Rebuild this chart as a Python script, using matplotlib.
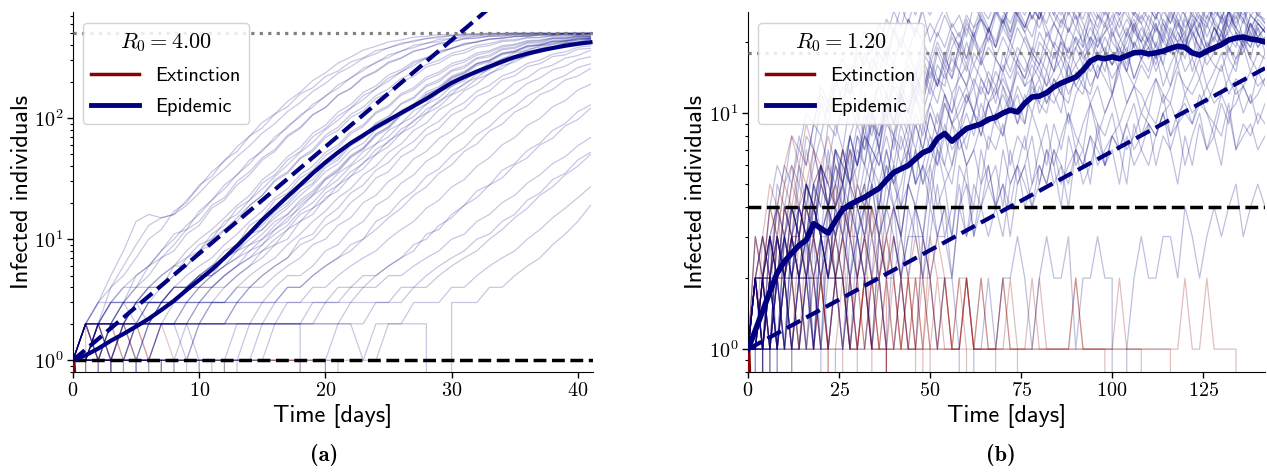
"""Stochastic SIR-type outbreak trajectories for two values of R0.

Left: R0 = 4.00 over 41 days, right: R0 = 1.20 over 142 days.
Thin lines are single realisations (blue: epidemic, red: extinction),
thick line is the mean of the epidemic runs.
"""
import matplotlib
matplotlib.use("Agg")
import matplotlib.pyplot as plt
from matplotlib.lines import Line2D

RED = "darkred"
BLUE = "navy"

# ---------------- panel (a): R0 = 4.00, daily values ----------------
A_R0 = "4.00"
A_DAYS = list(range(42))

A_EPIDEMIC = [
    [1, 2, 3, 4, 6, 9, 13, 15, 16, 21, 27, 36, 44, 58, 71, 92, 108, 137, 163, 204, 236, 284, 318, 364, 391, 425, 441, 466, 472, 489, 486, 497, 494, 503, 498, 505, 497, 502, 495, 501, 498, 503],
    [1, 1, 2, 3, 3, 5, 6, 8, 11, 12, 17, 21, 28, 34, 45, 53, 70, 83, 106, 123, 153, 176, 216, 246, 289, 316, 359, 381, 414, 428, 453, 459, 475, 477, 489, 487, 495, 491, 498, 494, 500, 496],
    [1, 2, 2, 3, 4, 4, 6, 7, 9, 12, 14, 19, 22, 30, 36, 47, 55, 72, 84, 107, 122, 154, 174, 214, 240, 284, 311, 354, 376, 409, 424, 449, 457, 473, 475, 487, 484, 494, 490, 497, 493, 499],
    [1, 1, 1, 2, 2, 3, 3, 4, 5, 7, 8, 11, 13, 18, 21, 29, 34, 45, 53, 70, 82, 104, 121, 153, 174, 214, 240, 284, 311, 352, 373, 408, 421, 448, 453, 471, 473, 485, 484, 492, 488, 496],
    [1, 2, 2, 2, 2, 3, 4, 4, 5, 6, 8, 9, 12, 14, 19, 23, 31, 36, 47, 55, 72, 84, 107, 123, 153, 174, 212, 236, 276, 300, 342, 364, 398, 412, 438, 444, 463, 465, 478, 477, 487, 484],
    [1, 1, 2, 2, 2, 2, 2, 3, 3, 4, 5, 6, 8, 9, 13, 15, 21, 24, 32, 37, 49, 57, 74, 85, 109, 123, 154, 171, 208, 229, 269, 290, 331, 350, 386, 400, 428, 436, 456, 458, 473, 472],
    [1, 1, 1, 1, 2, 2, 2, 2, 3, 3, 3, 4, 5, 6, 8, 9, 12, 14, 19, 23, 31, 36, 47, 55, 71, 82, 105, 120, 151, 170, 208, 229, 271, 292, 332, 350, 384, 397, 424, 430, 450, 452],
    [1, 2, 1, 2, 2, 2, 2, 2, 2, 3, 3, 3, 4, 5, 6, 7, 9, 10, 14, 16, 22, 25, 33, 38, 50, 58, 75, 86, 109, 124, 155, 174, 210, 230, 270, 290, 330, 346, 381, 393, 420, 426],
    [1, 1, 1, 1, 1, 2, 2, 2, 2, 2, 2, 3, 3, 3, 4, 5, 6, 7, 10, 11, 15, 18, 24, 28, 37, 43, 55, 64, 82, 94, 118, 134, 166, 186, 222, 243, 282, 301, 337, 352, 384, 394],
    [1, 0, 1, 1, 1, 1, 2, 2, 2, 2, 2, 2, 2, 3, 3, 3, 4, 5, 5, 6, 8, 9, 12, 14, 19, 22, 29, 34, 44, 51, 66, 77, 98, 113, 141, 160, 193, 214, 250, 268, 304, 320],
    [1, 1, 2, 2, 2, 2, 2, 2, 2, 2, 2, 2, 2, 2, 2, 3, 3, 4, 4, 5, 6, 7, 9, 10, 14, 16, 21, 25, 33, 38, 49, 57, 73, 85, 107, 124, 152, 171, 204, 225, 261, 280],
    [1, 1, 1, 1, 1, 1, 1, 1, 0, 1, 1, 1, 1, 2, 2, 2, 2, 2, 2, 3, 3, 3, 4, 4, 5, 6, 7, 8, 11, 12, 16, 19, 25, 28, 37, 42, 54, 62, 79, 90, 113, 128],
    [1, 1, 1, 1, 1, 2, 2, 2, 2, 2, 1, 1, 0, 1, 2, 2, 2, 2, 2, 2, 2, 2, 3, 3, 3, 3, 4, 4, 5, 6, 7, 8, 10, 11, 14, 16, 21, 24, 31, 35, 45, 52],
    [1, 1, 1, 1, 1, 1, 0, 1, 1, 1, 1, 1, 1, 1, 1, 1, 1, 1, 1, 1, 1, 2, 2, 1, 1, 2, 2, 2, 2, 0, 3, 3, 3, 4, 4, 5, 6, 7, 9, 11, 14, 19],
    [1, 2, 3, 5, 8, 14, 16, 15, 16, 19, 24, 31, 38, 48, 59, 75, 90, 113, 134, 166, 193, 234, 265, 310, 340, 382, 405, 437, 450, 472, 477, 491, 490, 499, 496, 502, 498, 504, 497, 501, 499, 502],
    [1, 1, 2, 2, 3, 3, 4, 5, 6, 8, 10, 12, 15, 19, 23, 31, 37, 48, 57, 75, 87, 112, 129, 163, 184, 227, 250, 294, 316, 358, 376, 414, 424, 451, 455, 473, 472, 486, 483, 493, 489, 497],
    [1, 1, 1, 2, 2, 2, 3, 3, 4, 4, 5, 6, 7, 9, 11, 13, 17, 20, 27, 31, 41, 47, 62, 71, 91, 104, 132, 149, 187, 207, 249, 269, 314, 331, 374, 385, 421, 426, 454, 454, 474, 472],
    [1, 2, 2, 2, 3, 3, 3, 3, 4, 4, 5, 6, 7, 8, 11, 12, 16, 19, 25, 29, 39, 45, 59, 68, 89, 101, 130, 145, 182, 199, 243, 259, 308, 320, 366, 376, 414, 418, 449, 449, 469, 468],
    [1, 1, 1, 1, 1, 1, 2, 2, 2, 2, 3, 3, 3, 4, 4, 5, 6, 7, 9, 10, 13, 15, 20, 24, 32, 36, 48, 55, 72, 82, 106, 119, 151, 167, 207, 223, 266, 281, 322, 332, 370, 376],
    [1, 1, 1, 1, 1, 1, 1, 2, 2, 2, 2, 2, 2, 2, 2, 2, 3, 3, 3, 4, 4, 5, 6, 7, 8, 10, 12, 14, 18, 21, 27, 31, 40, 47, 60, 69, 87, 99, 124, 139, 170, 190],
    [1, 1, 2, 1, 1, 1, 1, 0, 1, 1, 2, 2, 2, 2, 2, 2, 2, 2, 2, 2, 3, 3, 3, 4, 4, 5, 5, 6, 7, 8, 10, 11, 14, 16, 20, 23, 29, 34, 42, 48, 59, 69],
    [1, 2, 2, 3, 3, 4, 4, 5, 6, 7, 9, 10, 14, 16, 21, 26, 33, 41, 52, 63, 80, 96, 120, 142, 174, 202, 240, 271, 312, 340, 378, 400, 430, 444, 462, 468, 480, 482, 490, 489, 495, 494],
    [1, 1, 2, 2, 2, 3, 3, 3, 4, 4, 5, 5, 7, 8, 10, 12, 15, 18, 23, 28, 36, 42, 54, 62, 80, 91, 116, 130, 164, 182, 222, 242, 284, 302, 344, 360, 396, 406, 436, 440, 462, 463],
    [1, 2, 1, 1, 2, 2, 2, 3, 3, 3, 4, 4, 5, 6, 7, 8, 10, 12, 16, 18, 24, 28, 36, 42, 55, 63, 81, 93, 118, 134, 168, 188, 230, 250, 296, 314, 356, 370, 406, 414, 442, 446],
    [1, 2, 2, 4, 5, 7, 10, 12, 17, 20, 28, 33, 45, 53, 71, 83, 108, 124, 158, 178, 220, 244, 290, 314, 360, 378, 416, 426, 456, 460, 480, 481, 494, 492, 501, 497, 506, 499, 503, 500, 507, 501],
    [1, 1, 2, 2, 3, 4, 5, 7, 8, 11, 13, 18, 21, 28, 34, 45, 53, 70, 82, 106, 122, 155, 176, 218, 244, 290, 314, 358, 378, 414, 426, 452, 458, 474, 476, 487, 486, 494, 491, 497, 494, 499],
    [1, 1, 1, 1, 2, 2, 3, 3, 4, 5, 6, 7, 9, 11, 14, 17, 22, 26, 34, 40, 52, 60, 77, 88, 112, 127, 159, 178, 218, 239, 282, 302, 344, 360, 396, 406, 436, 440, 462, 462, 478, 476],
    [1, 2, 2, 3, 3, 3, 4, 4, 6, 6, 8, 10, 12, 15, 19, 23, 30, 35, 46, 53, 69, 79, 101, 115, 145, 162, 200, 220, 264, 284, 328, 344, 384, 396, 428, 434, 458, 460, 476, 475, 487, 485],
    [1, 1, 2, 1, 2, 2, 2, 3, 3, 3, 4, 4, 5, 6, 7, 9, 11, 13, 17, 20, 26, 31, 40, 47, 61, 70, 90, 103, 130, 147, 183, 203, 246, 266, 310, 328, 370, 384, 416, 424, 448, 452],
    [1, 1, 1, 1, 1, 1, 2, 2, 2, 3, 3, 4, 4, 5, 6, 8, 9, 12, 14, 18, 21, 28, 33, 43, 50, 65, 75, 96, 110, 139, 157, 194, 215, 258, 278, 320, 338, 374, 388, 416, 424, 444],
    [1, 2, 1, 2, 2, 3, 2, 3, 3, 4, 4, 5, 6, 7, 8, 10, 12, 15, 18, 23, 27, 35, 41, 53, 61, 79, 90, 115, 130, 163, 182, 222, 242, 286, 304, 346, 360, 396, 406, 434, 438, 458],
    [1, 1, 1, 2, 2, 1, 1, 2, 2, 2, 2, 3, 3, 3, 4, 4, 5, 6, 7, 9, 10, 13, 15, 20, 23, 30, 35, 46, 53, 68, 78, 100, 114, 143, 160, 196, 215, 255, 273, 312, 328, 362],
    [1, 1, 1, 1, 0, 1, 1, 1, 1, 2, 2, 2, 2, 3, 3, 3, 3, 4, 4, 5, 6, 7, 8, 10, 12, 15, 18, 23, 27, 35, 41, 53, 61, 78, 89, 112, 126, 156, 172, 206, 222, 256],
    [1, 1, 1, 1, 1, 1, 1, 1, 1, 1, 2, 2, 2, 2, 2, 2, 2, 3, 3, 3, 3, 4, 4, 5, 5, 6, 7, 9, 10, 13, 15, 19, 22, 28, 32, 41, 47, 60, 68, 86, 97, 120],
    [1, 1, 1, 0, 1, 1, 1, 1, 1, 1, 1, 1, 1, 1, 1, 1, 2, 2, 2, 2, 2, 2, 2, 2, 3, 3, 3, 4, 4, 5, 6, 7, 8, 10, 12, 15, 18, 23, 27, 34, 40, 50],
    [1, 2, 3, 3, 4, 5, 6, 8, 10, 13, 16, 21, 26, 34, 42, 55, 66, 86, 102, 130, 150, 188, 212, 258, 284, 332, 354, 398, 414, 446, 454, 474, 478, 490, 491, 498, 497, 503, 499, 505, 500, 504],
    [1, 1, 2, 2, 2, 3, 3, 3, 3, 4, 4, 5, 6, 7, 9, 10, 13, 16, 20, 24, 31, 37, 48, 56, 73, 84, 108, 123, 156, 175, 215, 236, 280, 298, 340, 354, 392, 402, 430, 434, 456, 458],
    [1, 2, 2, 2, 3, 2, 3, 3, 4, 4, 5, 5, 6, 8, 9, 11, 14, 16, 21, 25, 32, 38, 49, 57, 74, 85, 109, 124, 157, 176, 216, 236, 280, 298, 340, 354, 392, 400, 428, 432, 454, 456],
    [1, 2, 2, 1, 0, 1, 1, 2, 2, 2, 3, 3, 3, 4, 5, 6, 7, 9, 11, 14, 17, 22, 26, 34, 40, 52, 61, 79, 91, 117, 134, 168, 190, 234, 256, 302, 322, 364, 380, 414, 424, 448],
    [1, 1, 0, 1, 1, 2, 2, 2, 2, 1, 1, 0, 1, 1, 1, 2, 2, 2, 2, 0, 1, 1, 1, 1, 2, 2, 2, 3, 3, 3, 4, 4, 5, 6, 7, 8, 10, 12, 15, 18, 22, 27],
]

A_EXTINCT = [
    [1, 0],
    [1, 1, 0],
    [1, 2, 0],
    [1, 2, 1, 0],
    [1, 2, 1, 1, 0],
    [1, 1, 1, 1, 0],
    [1, 1, 2, 2, 1, 0],
    [1, 2, 2, 1, 2, 1, 1, 0],
    [1, 2, 2, 2, 2, 1, 1, 1, 0],
    [1, 1, 1, 2, 1, 1, 1, 1, 1, 0],
    [1, 1, 1, 1, 1, 1, 1, 2, 1, 1, 1, 0],
    [1, 2, 1, 1, 2, 2, 1, 1, 1, 1, 1, 1, 1, 0],
    [1, 1, 2, 1, 1, 1, 1, 1, 1, 1, 1, 1, 1, 1, 1, 1, 1, 1, 1, 0],
    [1, 1, 1, 1, 1, 2, 1, 1, 1, 1, 1, 1, 1, 1, 1, 1, 1, 1, 1, 1, 1, 0],
    [1, 1, 1, 1, 1, 1, 1, 1, 1, 1, 1, 1, 1, 1, 1, 1, 1, 1, 1, 1, 1, 1, 0],
]

A_MEAN = [1.0, 1.1, 1.25, 1.45, 1.65, 1.9, 2.2, 2.6, 3.1, 3.8, 4.6, 5.6, 7.0, 8.8,
          11.2, 14.4, 18, 22.5, 28, 35, 43, 52, 62, 72, 84, 96, 110, 126, 144, 168,
          195, 218, 242, 266, 292, 318, 340, 360, 378, 395, 410, 422]

A_EXT_MEAN_T = [0, 0.1, 0.3, 0.6, 1.0]
A_EXT_MEAN = [1.0, 0.7, 0.5, 0.4, 0.3]

A_GROWTH_T = [0, 41]
A_GROWTH = [1, 4100]
A_THRESHOLD = 1
A_CAP = 500

# ---------------- panel (b): R0 = 1.20, every second day ----------------
B_R0 = "1.20"
B_DAYS = list(range(0, 144, 2))

B_EPIDEMIC = [
    [1, 2, 1, 3, 2, 4, 3, 6, 4, 7, 5, 9, 8, 11, 14, 10, 15, 13, 18, 16, 22, 19, 25, 21, 29, 26, 31, 27, 34, 30, 36, 32, 35, 39, 31, 37, 41, 34, 38, 43, 36, 33, 40, 42, 35, 32, 39, 36, 41, 37, 33, 40, 35, 31, 38, 42, 34, 30, 37, 39, 33, 29, 36, 38, 32, 28, 35, 37, 31, 34, 32, 30],
    [1, 1, 2, 1, 3, 2, 2, 4, 3, 3, 6, 4, 5, 7, 5, 8, 6, 10, 7, 11, 9, 12, 10, 15, 11, 16, 13, 18, 14, 20, 17, 22, 16, 23, 19, 25, 20, 26, 22, 18, 27, 21, 24, 28, 22, 26, 19, 27, 23, 29, 21, 25, 28, 22, 26, 23, 30, 24, 20, 27, 23, 26, 21, 29, 24, 19, 26, 23, 28, 21, 25, 23],
    [1, 0, 1, 2, 1, 1, 3, 2, 1, 3, 2, 4, 2, 3, 5, 3, 4, 6, 4, 7, 5, 6, 8, 5, 9, 7, 10, 8, 12, 9, 11, 13, 9, 14, 11, 15, 12, 17, 13, 16, 14, 18, 15, 20, 14, 19, 16, 21, 18, 15, 22, 19, 16, 23, 20, 17, 24, 18, 21, 25, 19, 23, 18, 24, 20, 26, 21, 19, 25, 20, 24, 22],
    [1, 1, 1, 2, 1, 2, 1, 2, 3, 1, 3, 2, 2, 4, 3, 2, 4, 5, 3, 4, 6, 3, 5, 7, 5, 6, 8, 6, 9, 7, 8, 10, 8, 11, 9, 13, 10, 12, 9, 14, 11, 15, 12, 10, 16, 13, 12, 17, 14, 18, 12, 16, 19, 14, 17, 15, 20, 16, 13, 18, 21, 15, 19, 16, 18, 22, 17, 15, 21, 17, 23, 18],
    [1, 2, 3, 2, 5, 4, 6, 5, 8, 7, 11, 9, 13, 15, 12, 18, 16, 21, 19, 25, 22, 28, 24, 31, 27, 34, 30, 38, 33, 41, 36, 44, 39, 47, 42, 50, 45, 52, 46, 54, 48, 55, 50, 47, 53, 49, 56, 48, 52, 54, 49, 46, 53, 48, 51, 47, 50, 53, 48, 45, 52, 47, 50, 44, 49, 52, 46, 50, 47, 44, 49, 46],
    [1, 1, 2, 3, 1, 3, 2, 4, 5, 3, 6, 4, 7, 5, 8, 6, 9, 11, 7, 12, 9, 13, 15, 11, 16, 13, 18, 15, 19, 22, 17, 23, 25, 20, 26, 28, 22, 29, 31, 25, 30, 33, 27, 31, 34, 28, 32, 35, 29, 26, 33, 30, 36, 28, 31, 34, 29, 33, 37, 30, 34, 28, 35, 32, 27, 33, 30, 36, 31, 28, 34, 30],
    [1, 1, 0, 1, 2, 1, 1, 2, 1, 1, 3, 1, 2, 2, 1, 3, 2, 1, 3, 2, 4, 2, 3, 4, 2, 3, 5, 3, 4, 4, 6, 3, 5, 6, 4, 7, 5, 6, 8, 5, 7, 9, 6, 8, 10, 7, 9, 11, 8, 10, 12, 9, 11, 13, 10, 12, 14, 11, 13, 16, 12, 14, 17, 13, 15, 18, 14, 17, 19, 15, 18, 17],
    [1, 2, 1, 2, 4, 2, 4, 3, 2, 5, 4, 7, 4, 5, 8, 6, 9, 6, 8, 10, 7, 11, 9, 12, 10, 13, 11, 15, 12, 14, 16, 13, 17, 14, 12, 18, 15, 19, 17, 14, 20, 18, 15, 21, 17, 19, 22, 16, 21, 18, 23, 17, 20, 24, 18, 22, 19, 16, 23, 20, 22, 17, 24, 19, 21, 25, 18, 22, 20, 24, 19, 21],
    [1, 1, 1, 1, 2, 1, 1, 2, 3, 1, 2, 3, 2, 2, 4, 3, 2, 4, 3, 5, 4, 3, 5, 4, 6, 5, 7, 5, 6, 8, 6, 7, 9, 7, 10, 8, 11, 9, 12, 10, 13, 11, 14, 12, 16, 13, 15, 17, 14, 18, 16, 19, 15, 20, 18, 21, 17, 22, 19, 24, 20, 23, 26, 21, 25, 22, 27, 24, 28, 23, 26, 25],
    [1, 2, 2, 1, 3, 2, 2, 4, 3, 5, 4, 4, 7, 5, 8, 6, 10, 8, 11, 9, 13, 11, 15, 12, 17, 14, 19, 16, 21, 18, 23, 20, 25, 22, 27, 23, 29, 26, 31, 25, 30, 33, 27, 32, 26, 30, 34, 28, 32, 27, 31, 35, 29, 26, 32, 28, 34, 30, 27, 33, 29, 31, 35, 28, 26, 32, 29, 31, 27, 34, 30, 28],
    [1, 1, 2, 1, 1, 2, 3, 2, 2, 3, 1, 4, 3, 2, 4, 3, 5, 3, 4, 6, 5, 4, 7, 5, 6, 8, 6, 9, 7, 8, 10, 8, 11, 9, 10, 12, 10, 13, 11, 12, 14, 11, 13, 15, 12, 14, 16, 13, 15, 17, 14, 16, 18, 14, 17, 19, 15, 18, 20, 16, 19, 21, 17, 20, 18, 22, 19, 17, 21, 19, 23, 20],
    [1, 1, 1, 2, 1, 2, 1, 2, 3, 2, 3, 2, 3, 4, 2, 4, 3, 5, 3, 4, 6, 4, 5, 7, 5, 7, 6, 8, 6, 9, 7, 10, 8, 11, 9, 8, 12, 10, 9, 13, 11, 10, 14, 12, 11, 15, 13, 12, 16, 14, 12, 17, 15, 13, 16, 14, 18, 13, 16, 19, 15, 17, 14, 18, 16, 15, 19, 16, 20, 17, 15, 18],
    [1, 1, 0, 1, 1, 2, 1, 1, 1, 2, 1, 0, 1, 1, 2, 1, 1, 2, 2, 1, 1, 2, 1, 1, 3, 2, 1, 2, 2, 1, 0, 1, 1, 2, 1, 2, 2, 3, 2, 1, 2, 3, 2, 2, 3, 1, 2, 2, 3, 2, 2, 0, 1, 2, 3, 2, 2, 3, 3, 2, 4, 3, 2, 3, 4, 3, 4, 5, 3, 4, 5, 4],
    [1, 2, 1, 1, 1, 0, 1, 1, 2, 1, 1, 1, 2, 2, 1, 2, 3, 2, 2, 1, 3, 2, 3, 3, 2, 4, 3, 3, 2, 4, 3, 5, 4, 3, 4, 5, 4, 6, 5, 4, 6, 5, 7, 6, 5, 7, 6, 8, 7, 6, 8, 9, 7, 8, 10, 9, 8, 10, 11, 9, 12, 10, 11, 13, 11, 12, 14, 12, 13, 15, 13, 14],
    [1, 2, 3, 2, 4, 6, 5, 8, 6, 9, 12, 10, 14, 11, 16, 13, 18, 15, 21, 17, 23, 19, 25, 22, 27, 20, 24, 28, 23, 26, 21, 29, 25, 22, 27, 24, 30, 26, 23, 28, 25, 31, 27, 24, 29, 26, 22, 28, 25, 30, 27, 23, 29, 26, 24, 28, 25, 31, 27, 23, 29, 26, 24, 30, 25, 28, 23, 27, 25, 29, 26, 24],
    [1, 1, 2, 2, 3, 2, 4, 3, 5, 4, 3, 6, 5, 7, 6, 9, 7, 10, 8, 12, 10, 13, 11, 15, 12, 17, 14, 13, 18, 15, 20, 16, 19, 22, 17, 21, 18, 23, 20, 17, 22, 19, 24, 21, 18, 23, 20, 25, 19, 22, 26, 21, 18, 24, 20, 23, 19, 25, 22, 20, 26, 21, 24, 19, 23, 21, 27, 22, 19, 24, 21, 23],
    [1, 2, 1, 1, 3, 2, 3, 2, 4, 3, 5, 4, 6, 4, 7, 5, 8, 7, 6, 9, 8, 10, 8, 12, 9, 11, 14, 12, 10, 15, 13, 16, 14, 12, 17, 15, 18, 16, 14, 19, 17, 15, 20, 18, 16, 21, 17, 19, 22, 18, 16, 20, 23, 19, 17, 21, 24, 20, 18, 22, 19, 25, 21, 18, 23, 20, 22, 26, 21, 19, 24, 22],
    [1, 3, 2, 4, 6, 5, 8, 7, 10, 9, 13, 11, 15, 17, 14, 19, 22, 18, 24, 21, 27, 23, 30, 26, 33, 28, 35, 31, 38, 33, 40, 36, 42, 38, 45, 40, 47, 43, 49, 44, 51, 46, 48, 53, 47, 50, 45, 52, 48, 44, 50, 46, 53, 49, 45, 51, 47, 43, 50, 46, 52, 48, 44, 49, 46, 51, 47, 43, 48, 45, 50, 46],
    [1, 1, 1, 2, 2, 1, 3, 2, 2, 4, 3, 3, 5, 4, 6, 4, 5, 7, 6, 8, 6, 9, 7, 10, 8, 11, 9, 12, 10, 13, 11, 14, 12, 15, 13, 16, 14, 17, 15, 18, 16, 19, 17, 20, 18, 21, 19, 23, 20, 22, 24, 21, 25, 22, 20, 26, 23, 21, 27, 24, 22, 28, 25, 23, 29, 24, 27, 25, 30, 26, 28, 27],
    [1, 2, 2, 3, 2, 3, 4, 3, 5, 4, 6, 5, 7, 6, 5, 8, 7, 9, 8, 11, 9, 12, 10, 14, 12, 16, 13, 17, 15, 19, 16, 21, 18, 23, 19, 25, 21, 27, 23, 29, 25, 31, 26, 33, 28, 34, 30, 36, 31, 37, 33, 38, 34, 40, 35, 41, 36, 42, 38, 43, 39, 44, 40, 45, 41, 46, 42, 47, 43, 48, 44, 46],
    [1, 0, 1, 1, 2, 1, 2, 3, 2, 2, 3, 4, 3, 5, 4, 4, 6, 5, 7, 5, 8, 6, 7, 9, 7, 10, 8, 11, 9, 10, 12, 10, 13, 11, 12, 14, 12, 15, 13, 14, 16, 13, 15, 17, 14, 16, 18, 15, 17, 19, 16, 18, 15, 20, 17, 19, 16, 21, 18, 20, 17, 22, 19, 18, 21, 19, 23, 20, 18, 22, 19, 21],
    [1, 1, 1, 0, 1, 2, 1, 1, 2, 1, 1, 2, 2, 1, 3, 2, 2, 1, 3, 2, 2, 3, 2, 4, 3, 2, 3, 4, 3, 5, 3, 4, 4, 5, 4, 3, 5, 6, 4, 5, 6, 5, 7, 5, 6, 7, 6, 8, 6, 7, 8, 7, 9, 7, 8, 9, 8, 10, 8, 9, 10, 9, 11, 10, 9, 12, 10, 11, 13, 11, 12, 14],
    [1, 2, 1, 3, 4, 3, 5, 7, 6, 9, 8, 11, 10, 13, 12, 15, 13, 17, 15, 19, 16, 21, 18, 23, 20, 24, 21, 26, 22, 19, 25, 21, 27, 23, 20, 26, 22, 28, 24, 21, 27, 23, 19, 25, 22, 28, 24, 20, 26, 23, 29, 25, 21, 27, 24, 20, 26, 22, 28, 25, 21, 27, 23, 29, 24, 22, 27, 23, 20, 26, 24, 22],
    [1, 1, 2, 3, 2, 4, 3, 5, 4, 6, 8, 6, 9, 7, 11, 9, 12, 10, 14, 12, 16, 13, 18, 15, 20, 17, 22, 19, 24, 21, 26, 23, 28, 25, 30, 27, 24, 29, 26, 31, 27, 24, 30, 26, 32, 28, 25, 31, 27, 33, 29, 26, 30, 27, 32, 28, 25, 31, 27, 29, 26, 32, 28, 30, 27, 25, 31, 28, 26, 30, 27, 29],
    [1, 2, 2, 1, 2, 3, 2, 4, 3, 5, 3, 4, 6, 5, 7, 6, 8, 7, 9, 11, 9, 12, 10, 13, 15, 12, 16, 14, 17, 15, 13, 18, 16, 19, 17, 15, 20, 17, 21, 18, 16, 22, 19, 17, 23, 20, 18, 21, 19, 24, 20, 18, 22, 25, 21, 19, 23, 20, 26, 22, 19, 24, 21, 18, 23, 20, 25, 22, 19, 24, 21, 23],
    [1, 1, 1, 2, 3, 2, 3, 4, 3, 5, 6, 4, 7, 6, 8, 10, 8, 11, 13, 10, 14, 12, 16, 14, 18, 16, 20, 17, 22, 19, 24, 21, 26, 22, 28, 24, 29, 26, 23, 28, 25, 30, 26, 23, 29, 25, 27, 31, 26, 24, 29, 26, 32, 27, 25, 30, 26, 28, 24, 29, 27, 31, 26, 24, 28, 25, 30, 27, 24, 29, 26, 28],
    [1, 2, 1, 2, 1, 3, 2, 3, 2, 4, 3, 2, 4, 5, 3, 5, 4, 6, 5, 7, 5, 8, 6, 9, 7, 10, 8, 12, 9, 11, 13, 10, 14, 12, 15, 13, 11, 16, 14, 17, 15, 13, 18, 15, 19, 16, 14, 20, 17, 21, 18, 15, 22, 19, 23, 20, 17, 24, 21, 18, 25, 22, 19, 26, 23, 20, 27, 23, 21, 26, 24, 22],
    [1, 1, 2, 2, 1, 3, 2, 2, 4, 3, 5, 4, 3, 6, 5, 7, 6, 9, 7, 10, 8, 12, 10, 13, 11, 15, 13, 16, 14, 18, 15, 20, 17, 21, 19, 23, 20, 25, 22, 26, 23, 28, 24, 21, 27, 23, 29, 25, 22, 27, 24, 30, 26, 23, 28, 25, 22, 27, 24, 29, 26, 23, 28, 25, 31, 26, 23, 28, 25, 22, 27, 24],
    [1, 1, 2, 1, 2, 3, 2, 2, 3, 4, 3, 2, 4, 3, 5, 4, 3, 5, 4, 6, 4, 5, 7, 5, 6, 4, 7, 6, 5, 8, 6, 7, 5, 8, 7, 9, 6, 8, 7, 10, 8, 6, 9, 7, 10, 8, 7, 11, 9, 8, 10, 7, 9, 11, 8, 10, 9, 12, 8, 10, 11, 9, 12, 10, 8, 11, 9, 13, 10, 12, 9, 11],
    [1, 2, 1, 1, 2, 1, 3, 2, 2, 1, 3, 2, 4, 3, 2, 3, 4, 2, 5, 3, 4, 3, 5, 4, 3, 6, 4, 5, 3, 6, 5, 4, 7, 5, 6, 4, 7, 5, 6, 8, 5, 7, 6, 4, 8, 6, 7, 5, 9, 6, 8, 7, 5, 9, 7, 6, 8, 10, 7, 9, 6, 8, 10, 7, 9, 8, 11, 7, 9, 8, 10, 9],
    [1, 1, 1, 2, 1, 1, 2, 1, 2, 2, 1, 3, 2, 1, 2, 3, 2, 3, 2, 4, 3, 2, 4, 3, 3, 5, 3, 4, 2, 4, 5, 3, 4, 6, 4, 5, 3, 5, 6, 4, 5, 7, 5, 6, 4, 7, 5, 6, 8, 6, 7, 5, 8, 6, 7, 9, 6, 8, 7, 5, 8, 6, 9, 7, 8, 6, 10, 7, 8, 9, 7, 8],
    [1, 2, 2, 3, 2, 3, 4, 3, 5, 4, 6, 5, 4, 7, 5, 6, 8, 6, 7, 5, 8, 7, 9, 7, 10, 8, 7, 11, 9, 8, 12, 10, 9, 11, 13, 10, 12, 9, 11, 14, 10, 12, 11, 13, 9, 12, 14, 11, 13, 10, 12, 15, 11, 13, 12, 10, 14, 12, 11, 15, 13, 12, 14, 11, 13, 16, 12, 14, 13, 11, 15, 13],
]

B_EXTINCT = [
    [1, 0],
    [1, 2, 1, 0],
    [1, 2, 1, 0],
    [1, 1, 2, 1, 0],
    [1, 1, 2, 3, 2, 1, 1, 0],
    [1, 2, 2, 3, 2, 4, 3, 2, 2, 1, 2, 1, 0],
    [1, 1, 2, 2, 1, 2, 1, 3, 2, 2, 1, 1, 0],
    [1, 1, 1, 2, 1, 1, 2, 1, 1, 1, 2, 1, 1, 1, 0],
    [1, 1, 3, 2, 2, 4, 3, 3, 5, 4, 3, 2, 3, 2, 1, 1, 0],
    [1, 2, 2, 3, 4, 3, 5, 4, 3, 4, 3, 2, 3, 2, 2, 1, 2, 1, 0],
    [1, 3, 2, 4, 3, 5, 6, 4, 7, 5, 6, 4, 5, 3, 4, 2, 3, 2, 1, 2, 0],
    [1, 2, 3, 5, 4, 6, 8, 6, 9, 7, 5, 6, 4, 5, 3, 2, 3, 1, 2, 1, 0],
    [1, 3, 2, 2, 4, 3, 2, 3, 5, 4, 3, 4, 2, 3, 2, 2, 1, 2, 1, 1, 0],
    [1, 2, 1, 3, 2, 2, 3, 4, 3, 2, 3, 2, 2, 3, 1, 2, 1, 1, 2, 1, 0],
    [1, 2, 3, 2, 3, 2, 4, 3, 2, 3, 2, 1, 2, 2, 1, 1, 2, 1, 1, 1, 1, 2, 1, 1, 0],
    [1, 1, 2, 2, 3, 2, 4, 3, 5, 4, 6, 5, 4, 7, 5, 4, 3, 4, 2, 3, 2, 1, 2, 1, 1, 0],
    [1, 1, 2, 4, 3, 5, 4, 6, 5, 7, 6, 8, 6, 5, 7, 4, 5, 3, 4, 2, 3, 2, 1, 1, 2, 1, 0],
    [1, 2, 1, 2, 2, 3, 2, 1, 2, 3, 2, 2, 3, 4, 3, 3, 2, 4, 3, 2, 3, 2, 2, 1, 3, 2, 1, 2, 1, 1, 1, 0],
    [1, 1, 1, 2, 1, 2, 2, 1, 3, 2, 2, 1, 2, 3, 2, 1, 2, 2, 3, 2, 1, 2, 1, 2, 2, 1, 1, 2, 1, 1, 2, 1, 1, 1, 1, 0],
    [1, 2, 2, 1, 3, 2, 3, 3, 4, 3, 5, 4, 3, 4, 3, 5, 4, 3, 2, 3, 4, 3, 2, 3, 2, 2, 3, 2, 1, 2, 2, 1, 2, 1, 1, 2, 1, 1, 0],
    [1, 1, 2, 1, 1, 2, 1, 1, 2, 2, 1, 1, 2, 1, 1, 1, 2, 1, 1, 2, 1, 1, 1, 2, 1, 1, 2, 1, 1, 1, 2, 1, 1, 1, 1, 2, 1, 1, 1, 2, 1, 1, 1, 1, 1, 2, 1, 1, 1, 1, 0],
    [1, 1, 2, 1, 2, 2, 1, 2, 1, 1, 2, 1, 1, 2, 1, 1, 1, 2, 1, 1, 1, 1, 2, 1, 1, 1, 1, 1, 1, 1, 2, 1, 1, 1, 1, 1, 1, 1, 1, 1, 1, 1, 1, 1, 1, 2, 1, 1, 1, 1, 1, 1, 1, 1, 1, 0],
    [1, 2, 1, 2, 3, 2, 3, 2, 4, 3, 2, 3, 2, 1, 2, 1, 2, 1, 1, 1, 2, 1, 1, 1, 1, 2, 1, 1, 1, 1, 2, 1, 1, 1, 1, 1, 1, 1, 1, 1, 1, 1, 1, 1, 1, 1, 1, 1, 1, 1, 1, 2, 1, 1, 1, 1, 1, 1, 1, 0],
    [1, 2, 1, 1, 2, 2, 3, 2, 1, 2, 2, 3, 2, 2, 1, 2, 3, 2, 2, 3, 2, 1, 2, 2, 1, 3, 2, 2, 1, 2, 1, 1, 2, 1, 1, 1, 2, 1, 1, 1, 2, 1, 1, 1, 1, 1, 1, 1, 1, 1, 1, 1, 1, 1, 1, 1, 1, 1, 1, 1, 2, 1, 1, 2, 1, 1, 1, 1, 0],
]

B_MEAN = [1.0, 1.2, 1.45, 1.75, 2.1, 2.35, 2.55, 2.75, 2.9, 3.4, 3.25, 3.1, 3.5, 3.9,
          4.1, 4.25, 4.4, 4.6, 4.8, 5.2, 5.6, 5.8, 6.0, 6.4, 6.8, 7.0, 7.8, 8.2,
          7.6, 8.1, 8.6, 8.8, 9.0, 9.4, 9.6, 10.0, 10.3, 10.1, 11.0, 11.7, 11.8,
          12.2, 12.9, 13.4, 13.8, 14.2, 15.2, 16.6, 17.2, 17.0, 17.3, 17.0, 17.5,
          18.0, 18.1, 17.8, 18.0, 18.3, 18.8, 19.2, 19.0, 18.0, 17.6, 18.3, 18.9,
          19.5, 20.4, 20.8, 21.0, 20.6, 20.4, 20.0]

B_EXT_MEAN_T = [0, 0.3, 0.8, 1.5, 2.0]
B_EXT_MEAN = [1.0, 0.7, 0.5, 0.4, 0.3]

B_GROWTH_T = [0, 142]
B_GROWTH = [1, 15.5]
B_THRESHOLD = 4
B_CAP = 18


def draw_panel(ax, days, epidemic, extinct, mean, ext_t, ext_mean,
               growth_t, growth, threshold, cap, r0, xlim, ylim, xticks,
               mean_lw, run_alpha, label_x):
    for run in extinct:
        ax.plot(days[:len(run)], run, color=RED, lw=0.9, alpha=run_alpha,
                zorder=1)
    for run in epidemic:
        ax.plot(days[:len(run)], run, color=BLUE, lw=0.9, alpha=run_alpha,
                zorder=1)

    ax.axhline(threshold, color="black", ls="--", lw=2.5, zorder=3)
    ax.axhline(cap, color="gray", ls=":", lw=2.3, zorder=3)
    ax.plot(growth_t, growth, color=BLUE, ls="--", lw=3, zorder=4)
    ax.plot(ext_t, ext_mean, color=RED, lw=3.5, zorder=4)
    ax.plot(days[:len(mean)], mean, color=BLUE, lw=mean_lw, zorder=5)

    ax.set_yscale("log")
    ax.set_xlim(*xlim)
    ax.set_ylim(*ylim)
    ax.set_xticks(xticks)
    ax.spines[["top", "right"]].set_visible(False)
    ax.tick_params(labelsize=14.5, length=4, width=1, pad=3)
    ax.tick_params(which="minor", length=2.5, width=0.8)
    ax.set_xlabel("Time [days]", fontfamily="cmss10", fontsize=17.5,
                  labelpad=3)
    ax.set_ylabel("Infected individuals", fontfamily="cmss10", fontsize=17.5)
    ax.yaxis.set_label_coords(label_x, 0.5)

    handles = [Line2D([0], [0], color=RED, lw=2.5),
               Line2D([0], [0], color=BLUE, lw=3.5)]
    leg = ax.legend(handles, ["Extinction", "Epidemic"],
                    title=rf"$R_0 = {r0}$", title_fontsize=16,
                    prop={"family": "cmss10", "size": 14.5},
                    loc="upper left", bbox_to_anchor=(0.019, 0.969),
                    borderaxespad=0, handlelength=2.4, labelspacing=0.65,
                    framealpha=0.85, edgecolor="#cccccc")
    leg.set_zorder(10)


def main():
    plt.rcParams["font.family"] = "cmr10"
    plt.rcParams["mathtext.fontset"] = "cm"
    plt.rcParams["axes.formatter.use_mathtext"] = True
    plt.rcParams["axes.unicode_minus"] = False

    fig = plt.figure(figsize=(12.67, 4.75), dpi=100)
    ax_a = fig.add_axes([0.0576, 0.2168, 0.4104, 0.7579])
    ax_b = fig.add_axes([0.5904, 0.2168, 0.4081, 0.7579])

    draw_panel(ax_a, A_DAYS, A_EPIDEMIC, A_EXTINCT, A_MEAN, A_EXT_MEAN_T,
               A_EXT_MEAN, A_GROWTH_T, A_GROWTH, A_THRESHOLD, A_CAP, A_R0,
               (0, 41.2), (0.8, 750), [0, 10, 20, 30, 40], 3, 0.22, -0.077)
    draw_panel(ax_b, B_DAYS, B_EPIDEMIC, B_EXTINCT, B_MEAN, B_EXT_MEAN_T,
               B_EXT_MEAN, B_GROWTH_T, B_GROWTH, B_THRESHOLD, B_CAP, B_R0,
               (0, 142), (0.8, 26.8), [0, 25, 50, 75, 100, 125], 4, 0.25,
               -0.079)

    fig.text(0.256, 0.042, "(a)", fontfamily="cmb10", fontsize=16,
             ha="center", va="center")
    fig.text(0.790, 0.042, "(b)", fontfamily="cmb10", fontsize=16,
             ha="center", va="center")

    fig.savefig("out.png", dpi=100)


if __name__ == "__main__":
    main()
